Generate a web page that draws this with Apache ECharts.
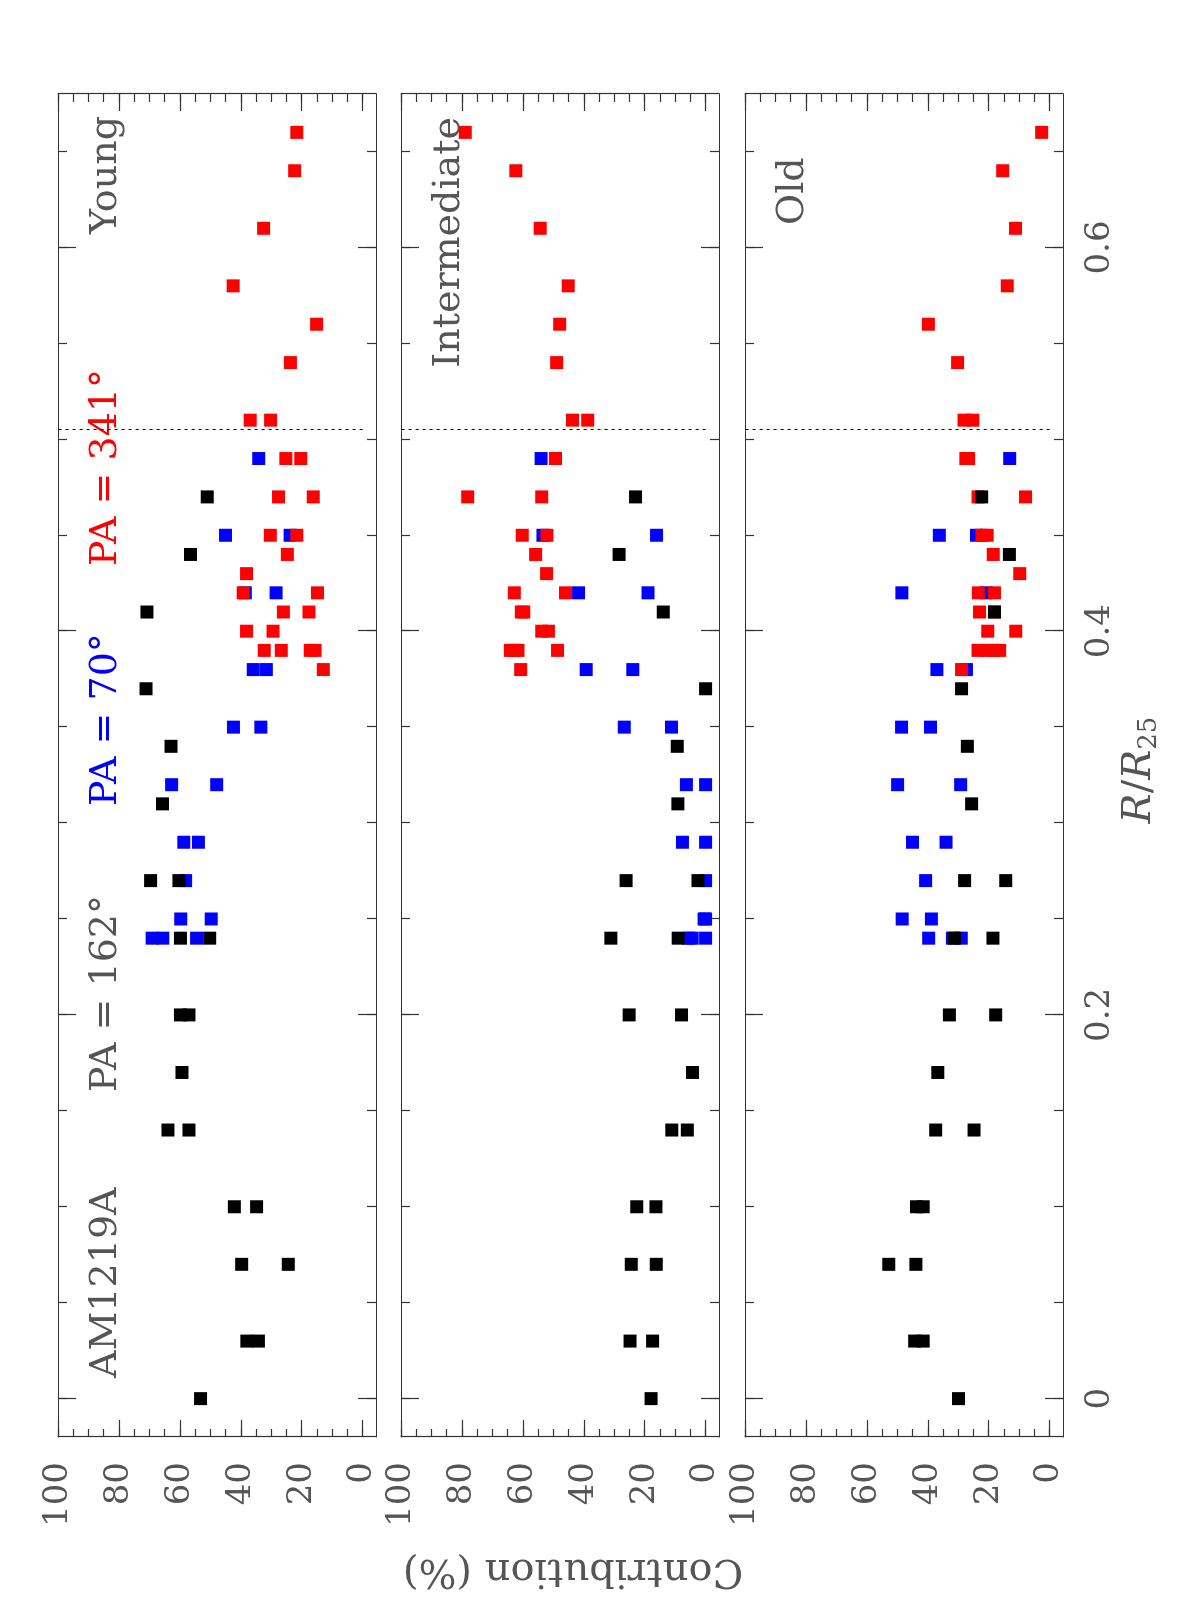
<!DOCTYPE html>
<html>
<head>
<meta charset="utf-8">
<script src="https://cdn.jsdelivr.net/npm/echarts/dist/echarts.min.js"></script>
<style>
html, body { margin: 0; padding: 0; background: #fff; overflow: hidden; }
/* the figure is drawn landscape and turned a quarter turn, like the printed page */
#chart { position: absolute; left: 0; top: 0; width: 1600px; height: 1196px;
         transform-origin: 0 0; transform: translate(0, 1600px) rotate(-90deg); }
</style>
</head>
<body>
<div id="chart"></div>
<script>
// R/R25 positions and contributions (%) for each slit
var rBlack = [0, 0.03, 0.03, 0.07, 0.07, 0.10, 0.10, 0.14, 0.14, 0.17, 0.20, 0.20, 0.24, 0.24, 0.27, 0.27, 0.31, 0.34, 0.37, 0.41, 0.44, 0.47];
var youngBlack = [53.2, 38.0, 34.2, 39.7, 24.4, 42.1, 34.8, 63.9, 57.0, 59.3, 59.8, 57.0, 59.8, 50.2, 69.6, 60.3, 65.7, 62.9, 71.1, 70.8, 56.5, 51.0];
var interBlack = [17.9, 24.8, 17.4, 24.4, 16.2, 22.6, 16.3, 11.1, 6.0, 4.3, 25.1, 7.9, 31.1, 9.0, 26.1, 2.5, 9.1, 9.3, 0.0, 13.9, 28.4, 23.0];
var oldBlack = [29.9, 44.3, 41.5, 52.8, 43.9, 43.7, 41.5, 37.4, 24.8, 36.7, 32.9, 17.7, 31.2, 18.6, 27.9, 14.4, 25.6, 27.0, 28.9, 18.1, 13.2, 22.3];

var rBlue = [0.24, 0.24, 0.24, 0.25, 0.25, 0.27, 0.29, 0.29, 0.32, 0.32, 0.35, 0.35, 0.38, 0.38, 0.42, 0.42, 0.45, 0.45, 0.49];
var youngBlue = [69.1, 65.6, 54.5, 59.7, 49.7, 58.1, 58.7, 53.9, 62.7, 47.9, 42.4, 33.4, 35.9, 31.6, 38.5, 28.4, 45.0, 23.8, 34.1];
var interBlue = [0.0, 4.4, 5.5, 0.0, 0.5, 0.0, 7.6, 0.0, 6.3, 0.0, 11.2, 26.7, 23.9, 39.2, 41.7, 18.9, 16.1, 53.4, 54.0];
var oldBlue = [29.0, 31.9, 39.7, 38.8, 48.4, 40.7, 34.0, 45.0, 29.2, 49.9, 48.6, 39.1, 37.0, 27.3, 20.8, 48.5, 36.2, 24.0, 13.1];

var rRed = [0.38, 0.39, 0.39, 0.39, 0.39, 0.40, 0.40, 0.41, 0.41, 0.42, 0.42, 0.43, 0.44, 0.45, 0.45, 0.47, 0.47, 0.49, 0.49, 0.51, 0.51, 0.54, 0.56, 0.58, 0.61, 0.64, 0.66];
var youngRed = [12.9, 32.3, 26.7, 17.2, 15.6, 38.1, 29.4, 26.0, 17.6, 39.2, 14.8, 38.1, 24.7, 30.3, 21.6, 27.6, 16.2, 25.2, 20.3, 36.9, 30.2, 23.7, 15.1, 42.5, 32.5, 22.3, 21.6];
var interRed = [60.7, 48.6, 61.6, 63.0, 64.1, 51.6, 53.8, 59.7, 60.5, 46.0, 62.8, 52.2, 55.8, 52.1, 60.2, 53.8, 78.1, 49.3, 49.3, 43.7, 38.7, 48.9, 47.9, 45.1, 54.3, 62.3, 78.9];
var oldRed = [28.9, 23.5, 20.8, 16.4, 18.4, 11.1, 20.3, 23.0, 18.1, 18.1, 23.4, 9.8, 18.5, 22.2, 20.5, 23.5, 7.9, 27.5, 26.6, 28.1, 25.2, 30.2, 39.8, 13.9, 11.2, 15.4, 2.6];

var panelNames = ['Young', 'Intermediate', 'Old'];
var rMajor = [0, 0.2, 0.4, 0.6];
var rMinor = [0, 0.05, 0.1, 0.15, 0.2, 0.25, 0.3, 0.35, 0.4, 0.45, 0.5, 0.55, 0.6, 0.65];
var cMajor = [0, 20, 40, 60, 80, 100];
var cMinor = [0, 5, 10, 15, 20, 25, 30, 35, 40, 45, 50, 55, 60, 65, 70, 75, 80, 85, 90, 95, 100];
var dividerR = 0.505;

var FONT = 'DejaVu Serif';
var TXT = '#555';
var LINE = { color: '#333', width: 1.2 };
var panelTops = [58, 401, 745];

function pairs(r, v) {
    var arr = [];
    for (var i = 0; i < r.length; i++) arr.push([r[i], v[i]]);
    return arr;
}

var grids = [], xAxes = [], yAxes = [], series = [];
var byPanel = [
    [youngBlue, youngRed, youngBlack],
    [interBlue, interRed, interBlack],
    [oldBlue, oldRed, oldBlack]
];

for (var g = 0; g < 3; g++) {
    grids.push({ left: 163, right: 94, top: panelTops[g], height: 318 });
    // R axis: major + minor ticks on bottom and top
    ['bottom', 'top'].forEach(function (pos) {
        xAxes.push({
            gridIndex: g, type: 'value', min: -0.02, max: 0.68, position: pos,
            axisLine: { show: true, onZero: false, lineStyle: LINE },
            axisTick: { show: true, inside: true, length: 18, customValues: rMajor, lineStyle: LINE },
            axisLabel: { show: g === 2 && pos === 'bottom', customValues: rMajor, margin: 20,
                         fontFamily: FONT, fontSize: 34, color: TXT },
            splitLine: { show: false }
        });
        xAxes.push({
            gridIndex: g, type: 'value', min: -0.02, max: 0.68, position: pos,
            axisLine: { show: false, onZero: false },
            axisTick: { show: true, inside: true, length: 9, customValues: rMinor, lineStyle: LINE },
            axisLabel: { show: false }, splitLine: { show: false }
        });
    });
    // Contribution axis: left and right
    ['left', 'right'].forEach(function (pos) {
        yAxes.push({
            gridIndex: g, type: 'value', min: -4.4, max: 100, position: pos,
            axisLine: { show: true, onZero: false, lineStyle: LINE },
            axisTick: { show: true, inside: true, length: 17, customValues: cMajor, lineStyle: LINE },
            axisLabel: { show: pos === 'left', customValues: cMajor, margin: 25,
                         fontFamily: FONT, fontSize: 34, color: TXT },
            splitLine: { show: false }
        });
        yAxes.push({
            gridIndex: g, type: 'value', min: -4.4, max: 100, position: pos,
            axisLine: { show: false, onZero: false },
            axisTick: { show: true, inside: true, length: 8, customValues: cMinor, lineStyle: LINE },
            axisLabel: { show: false }, splitLine: { show: false }
        });
    });

    var vals = byPanel[g];
    var specs = [[rBlue, vals[0], '#0000ff'], [rRed, vals[1], '#ff0000'], [rBlack, vals[2], '#000000']];
    for (var s = 0; s < specs.length; s++) {
        var ser = {
            type: 'scatter', xAxisIndex: g * 4, yAxisIndex: g * 4,
            symbol: 'rect', symbolSize: 13,
            itemStyle: { color: specs[s][2], opacity: 1 },
            data: pairs(specs[s][0], specs[s][1]),
            z: 3 + s
        };
        if (s === 2) {
            ser.markLine = {
                silent: true, symbol: 'none', label: { show: false },
                lineStyle: { type: [3, 4], color: '#000', width: 1 },
                data: [[{ coord: [dividerR, 0] }, { coord: [dividerR, 100] }]]
            };
        }
        series.push(ser);
    }
}

function label(text, x, y, color, align) {
    return {
        type: 'text', x: x, y: y, silent: true,
        style: { text: text, fill: color, font: '38px "' + FONT + '"',
                 align: align, textAlign: align, verticalAlign: 'middle', textVerticalAlign: 'middle' }
    };
}

var graphics = [
    label('AM1219A', 222, 106, TXT, 'left'),
    label('PA = 162°', 508, 106, TXT, 'left'),
    label('PA = 70°', 794, 106, '#0000ff', 'left'),
    label('PA = 341°', 1034, 106, '#ff0000', 'left'),
    label(panelNames[0], 1484, 106, TXT, 'right'),
    label(panelNames[1], 1483, 449, TXT, 'right'),
    label(panelNames[2], 1375, 793, TXT, 'left'),
    {
        type: 'text', x: 30, y: 573, rotation: Math.PI / 2, silent: true,
        style: { text: 'Contribution (%)', fill: TXT, font: '40px "' + FONT + '"',
                 align: 'center', textAlign: 'center', verticalAlign: 'middle', textVerticalAlign: 'middle' }
    },
    {
        type: 'text', x: 830, y: 1140, silent: true,
        style: {
            text: '{i|R}{n|/}{i|R}{s|25}', fill: TXT,
            align: 'center', textAlign: 'center', verticalAlign: 'middle', textVerticalAlign: 'middle',
            rich: {
                i: { fontFamily: FONT, fontStyle: 'italic', fontSize: 40, color: TXT, lineHeight: 44 },
                n: { fontFamily: FONT, fontSize: 40, color: TXT, lineHeight: 44 },
                s: { fontFamily: FONT, fontSize: 26, color: TXT, lineHeight: 44, verticalAlign: 'bottom', padding: [18, 0, 0, 0] }
            }
        }
    }
];

var myChart = echarts.init(document.getElementById('chart'), null, { renderer: 'canvas' });
myChart.setOption({
    animation: false,
    backgroundColor: '#fff',
    grid: grids,
    xAxis: xAxes,
    yAxis: yAxes,
    series: series,
    graphic: graphics
});
</script>
</body>
</html>
